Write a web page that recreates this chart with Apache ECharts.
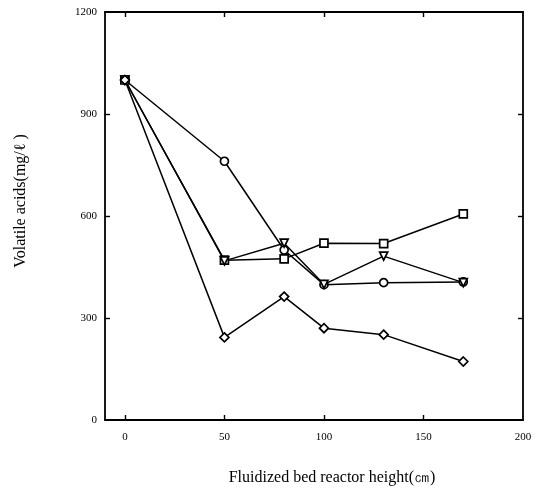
<!DOCTYPE html>
<html><head><meta charset="utf-8">
<script src="https://cdn.jsdelivr.net/npm/echarts@6/dist/echarts.min.js"></script>
<style>html,body{margin:0;padding:0;background:#fff}#c{width:542px;height:491px}</style>
</head><body><div id="c"></div>
<script>
var heights = [0, 50, 80, 100, 130, 170];
var circleVals = [1000, 761, 500, 398, 404, 406];
var squareVals = [1000, 470, 474, 520, 519, 606];
var triangleVals = [1000, 468, 520, 399, 482, 404];
var diamondVals = [1000, 243, 363, 270, 251, 172];
var xTicks = [0, 50, 100, 150, 200];
var yTicks = [0, 300, 600, 900, 1200];

function pairs(v){ return heights.map(function(h,i){ return [h, v[i]]; }); }
var font = 'Liberation Serif';
function mk(name, vals, symbol, size, rot){
  return {name:name, type:'line', data:pairs(vals), symbol:symbol, symbolSize:size, symbolRotate:rot||0,
    showAllSymbol:true,
    lineStyle:{color:'#000', width:1.5}, itemStyle:{color:'#fff', borderColor:'#000', borderWidth:1.7}, z:3};
}
var axLine = {show:true, onZero:false, lineStyle:{color:'#000', width:1.8}};
var tickStyle = {color:'#000', width:1.4};
var chart = echarts.init(document.getElementById('c'));
chart.setOption({
  animation:false,
  grid:{left:105, right:19, top:12, bottom:68},
  xAxis:[{
    type:'value', min:-10, max:200, position:'bottom',
    axisLine:axLine,
    axisTick:{inside:true, length:5, customValues:[0,50,100,150], lineStyle:tickStyle},
    axisLabel:{customValues:xTicks, color:'#000', fontFamily:font, fontSize:11, margin:12},
    splitLine:{show:false},
    name:'Fluidized bed reactor height(㎝)', nameLocation:'middle', nameGap:50,
    nameTextStyle:{color:'#000', fontFamily:font, fontSize:16, padding:[0,0,0,36]}
  },{
    type:'value', min:-10, max:200, position:'top',
    axisLine:axLine,
    axisTick:{inside:true, length:5, customValues:[0,50,100,150], lineStyle:tickStyle},
    axisLabel:{show:false}, splitLine:{show:false}
  }],
  yAxis:[{
    type:'value', min:0, max:1200, interval:300, position:'left',
    axisLine:axLine,
    axisTick:{show:true, inside:true, length:5, customValues:[300,600,900], lineStyle:tickStyle},
    axisLabel:{customValues:yTicks, color:'#000', fontFamily:font, fontSize:11, margin:8,
      formatter:function(v){ return String(v); }},
    splitLine:{show:false},
    name:'Volatile acids(mg/ℓ )', nameLocation:'middle', nameGap:76, nameRotate:90,
    nameTextStyle:{color:'#000', fontFamily:font, fontSize:16, padding:[0,0,0,30]}
  },{
    type:'value', min:0, max:1200, interval:300, position:'right',
    axisLine:axLine,
    axisTick:{show:true, inside:true, length:5, customValues:[300,600,900], lineStyle:tickStyle},
    axisLabel:{show:false}, splitLine:{show:false}
  }],
  series:[
    mk('circle', circleVals, 'circle', 8),
    mk('square', squareVals, 'rect', 8),
    mk('triangle', triangleVals, 'triangle', 8, 180),
    mk('diamond', diamondVals, 'diamond', 9)
  ]
});
</script></body></html>
